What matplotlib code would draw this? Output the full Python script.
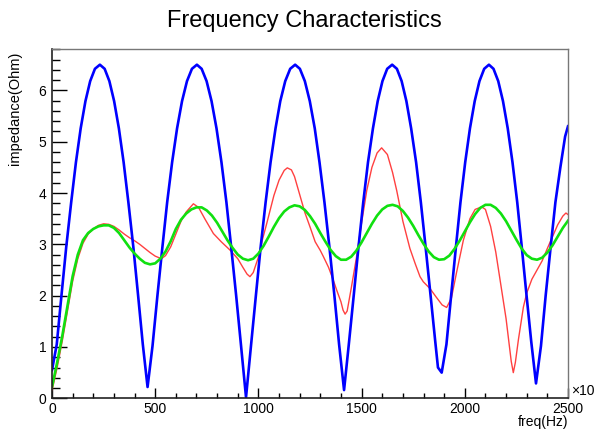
import numpy as np
import matplotlib
matplotlib.use("Agg")
from matplotlib import pyplot as plt
from matplotlib.ticker import MultipleLocator

plt.rcParams['font.family'] = ['Liberation Sans', 'DejaVu Sans']

# blue curve (one point every ~23 Hz)
blue_f = [0, 23, 46, 69, 93, 116, 139, 162, 185, 208, 232, 255, 278, 301, 324, 347, 370, 394, 417, 440, 463,
          487, 511, 535, 558, 582, 606, 630, 654, 678, 702, 725, 749, 773, 797, 821, 845, 868, 892, 916, 940,
          964, 988, 1011, 1035, 1059, 1083, 1106, 1130, 1154, 1178, 1201, 1225, 1249, 1273, 1296, 1320, 1344, 1368, 1391, 1415,
          1438, 1462, 1485, 1508, 1531, 1555, 1578, 1601, 1624, 1648, 1671, 1694, 1717, 1740, 1764, 1787, 1810, 1834, 1857, 1870, 1888,
          1911, 1934, 1957, 1979, 2002, 2025, 2048, 2071, 2094, 2117, 2139, 2162, 2185, 2208, 2231, 2254, 2276, 2299, 2322, 2345,
          2369, 2392, 2416, 2439, 2463, 2486, 2500]
blue_z = [0.55, 1.05, 2.01, 2.95, 3.82, 4.60, 5.26, 5.79, 6.18, 6.42, 6.50, 6.42, 6.18, 5.79, 5.26, 4.60, 3.82, 2.95, 2.01, 1.05, 0.22,
          1.02, 2.01, 2.95, 3.82, 4.60, 5.26, 5.79, 6.18, 6.42, 6.50, 6.42, 6.18, 5.79, 5.26, 4.60, 3.82, 2.95, 2.01, 1.02, 0.02,
          1.02, 2.01, 2.95, 3.82, 4.60, 5.26, 5.79, 6.18, 6.42, 6.50, 6.42, 6.18, 5.79, 5.26, 4.60, 3.82, 2.95, 2.01, 1.05, 0.16,
          1.05, 2.01, 2.95, 3.82, 4.60, 5.26, 5.79, 6.18, 6.42, 6.50, 6.42, 6.18, 5.79, 5.26, 4.60, 3.82, 2.95, 2.01, 1.10, 0.60, 0.50,
          1.05, 2.01, 2.95, 3.82, 4.60, 5.26, 5.79, 6.18, 6.42, 6.50, 6.42, 6.18, 5.79, 5.26, 4.60, 3.82, 2.95, 2.01, 1.10, 0.29,
          1.02, 2.01, 2.95, 3.82, 4.50, 5.10, 5.30]

# red curve
red_f = [0, 25, 50, 75, 100, 125, 150, 175, 200, 225, 250, 275, 300, 325, 350, 375, 400, 425, 450, 475, 500, 530,
         550, 575, 600, 625, 650, 685, 710, 740, 782, 820, 862, 900, 925, 945, 959, 975, 1000, 1020, 1040, 1075, 1100,
         1125, 1140, 1160, 1175, 1200, 1225, 1250, 1275, 1300, 1315, 1340, 1363, 1380, 1400, 1410, 1420, 1430, 1450,
         1475, 1500, 1525, 1550, 1575, 1597, 1625, 1650, 1670, 1700, 1734, 1760, 1783, 1799, 1831, 1860, 1890, 1912,
         1935, 1960, 1993, 2025, 2050, 2082, 2100, 2125, 2150, 2175, 2200, 2215, 2225, 2235, 2245, 2260, 2284, 2300,
         2325, 2350, 2375, 2400, 2425, 2450, 2475, 2490, 2500]
red_z = [0.15, 0.60, 1.12, 1.70, 2.28, 2.72, 3.02, 3.20, 3.30, 3.37, 3.40, 3.39, 3.35, 3.28, 3.20, 3.13, 3.07, 3.00, 2.92, 2.84, 2.77, 2.72,
         2.78, 2.95, 3.20, 3.45, 3.63, 3.79, 3.72, 3.50, 3.21, 3.05, 2.89, 2.72, 2.55, 2.42, 2.37, 2.45, 2.75, 3.10, 3.40, 3.95, 4.25,
         4.44, 4.49, 4.45, 4.32, 3.97, 3.62, 3.34, 3.05, 2.88, 2.76, 2.55, 2.30, 2.10, 1.88, 1.72, 1.64, 1.70, 2.15,
         2.74, 3.42, 4.05, 4.50, 4.78, 4.88, 4.75, 4.40, 4.05, 3.45, 2.92, 2.62, 2.37, 2.27, 2.14, 1.98, 1.82, 1.77,
         1.95, 2.45, 3.08, 3.50, 3.68, 3.73, 3.68, 3.35, 2.85, 2.20, 1.55, 1.05, 0.72, 0.50, 0.70, 1.15, 1.78, 2.05,
         2.32, 2.50, 2.68, 2.92, 3.15, 3.38, 3.55, 3.61, 3.58]

# green curve, every 25 Hz
green_f = np.arange(0, 2525, 25)
green_z = [0.22, 0.70, 1.22, 1.80, 2.38, 2.80, 3.08, 3.22, 3.30, 3.35, 3.37, 3.37, 3.32, 3.22, 3.08, 2.94, 2.82, 2.72, 2.64, 2.61,
           2.63, 2.72, 2.86, 3.06, 3.30, 3.48, 3.60, 3.68, 3.72, 3.72, 3.66, 3.56, 3.42, 3.25, 3.08, 2.93, 2.80, 2.72, 2.69, 2.72,
           2.82, 2.97, 3.15, 3.34, 3.51, 3.64, 3.72, 3.76, 3.74, 3.67, 3.55, 3.40, 3.22, 3.05, 2.89, 2.77, 2.70, 2.70, 2.76, 2.88,
           3.04, 3.22, 3.40, 3.56, 3.68, 3.75, 3.77, 3.74, 3.65, 3.52, 3.36, 3.18, 3.01, 2.86, 2.75, 2.70, 2.71, 2.78, 2.91, 3.07,
           3.25, 3.43, 3.59, 3.71, 3.77, 3.77, 3.71, 3.60, 3.45, 3.27, 3.09, 2.92, 2.79, 2.72, 2.70, 2.74, 2.84, 2.98, 3.15, 3.32,
           3.46]

fig = plt.figure(figsize=(5.96, 4.30), dpi=100)
ax = fig.add_axes([52 / 596, 1 - 398.3 / 430, 516 / 596, 349 / 430])

ax.plot(red_f, red_z, color='#ff4040', lw=1.0)
ax.plot(blue_f, blue_z, color='#0000ff', lw=1.9, solid_joinstyle='round')
ax.plot(green_f, green_z, color='#10e010', lw=1.9, solid_joinstyle='round')

ax.set_xlim(0, 2500)
ax.set_ylim(0, 6.8)
ax.xaxis.set_major_locator(MultipleLocator(500))
ax.xaxis.set_minor_locator(MultipleLocator(100))
ax.yaxis.set_major_locator(MultipleLocator(1))
ax.yaxis.set_minor_locator(MultipleLocator(0.2))
ax.tick_params(axis='x', which='major', direction='in', length=7.5, width=1, labelsize=10, pad=3)
ax.tick_params(axis='x', which='minor', direction='in', length=3.8, width=1)
ax.tick_params(axis='y', which='major', direction='in', length=11, width=1, labelsize=10, pad=4)
ax.tick_params(axis='y', which='minor', direction='in', length=5.5, width=1)
for s in ['left', 'bottom']:
    ax.spines[s].set_color('#222222')
    ax.spines[s].set_linewidth(1.2)
for s in ['top', 'right']:
    ax.spines[s].set_color('#777777')
    ax.spines[s].set_linewidth(1.0)

fig.text(304 / 596, 1 - 21 / 430, 'Frequency Characteristics', ha='center', va='center', fontsize=17)
fig.text(15 / 596, 1 - 52 / 430, 'impedance(Ohm)', rotation=90, ha='center', va='top', fontsize=10.5)
fig.text(568 / 596, 1 - 422 / 430, 'freq(Hz)', ha='right', va='center', fontsize=10)
fig.text(571 / 596, 1 - 391 / 430, '×10', ha='left', va='center', fontsize=10)

fig.savefig('out.png', dpi=100)
